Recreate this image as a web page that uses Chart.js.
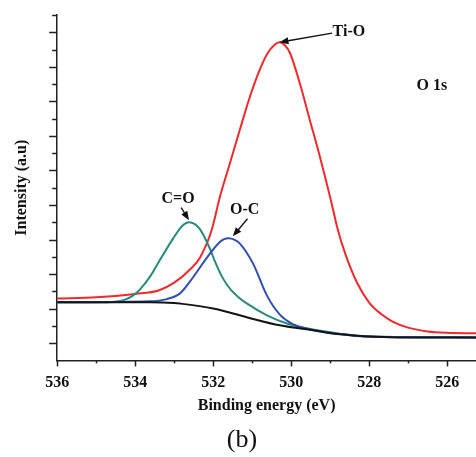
<!DOCTYPE html>
<html>
<head>
<meta charset="utf-8">
<script src="https://cdn.jsdelivr.net/npm/chart.js@4"></script>
<style>
  html, body { margin: 0; padding: 0; background: #fff; }
  #wrap { width: 476px; height: 457px; }
</style>
</head>
<body>
<div id="wrap"><canvas id="xps"></canvas></div>
<script>
// O 1s spectrum (eV, arbitrary intensity)
const tioX = [536, 535, 534, 533.4, 533, 532.6, 532.34, 532.04, 531.83, 531.57, 531.32, 531.06, 530.81, 530.6, 530.45, 530.3, 530.15, 530.03, 529.78, 529.52, 529.26, 529, 528.8, 528.6, 528.3, 528, 527.7, 527.4, 527, 526.5, 526, 525.26];
const tioY = [3.59, 3.65, 3.85, 4.05, 4.5, 5.25, 5.95, 7.54, 9.45, 11.42, 13.33, 15.25, 16.81, 17.8, 18.22, 18.42, 18.22, 17.8, 16.06, 13.91, 11.77, 9.45, 7.54, 6.1, 4.45, 3.35, 2.7, 2.25, 1.9, 1.68, 1.6, 1.57];

const coX = [536, 534.9, 534.26, 534.06, 533.88, 533.62, 533.37, 533.03, 532.85, 532.75, 532.62, 532.48, 532.34, 532.08, 531.95, 531.75, 531.55, 531.32, 531.14, 530.62, 530.11, 529.6, 528.75, 528, 525.26];
const coY = [3.36, 3.36, 3.52, 3.75, 4.1, 4.85, 5.8, 7.05, 7.65, 7.88, 8.0, 7.9, 7.6, 6.45, 5.7, 4.75, 4.1, 3.6, 3.3, 2.61, 2.14, 1.86, 1.55, 1.38, 1.33];

const ocX = [536, 533.62, 533.19, 532.85, 532.52, 532.16, 531.83, 531.72, 531.6, 531.45, 531.32, 530.98, 530.62, 530.29, 529.96, 529.44, 528.75, 528, 525.26];
const ocY = [3.36, 3.42, 3.55, 3.88, 4.8, 5.95, 6.85, 7.02, 7.07, 6.98, 6.78, 5.62, 3.75, 2.65, 2.1, 1.76, 1.53, 1.38, 1.33];

const bgX = [536, 533.62, 533, 532.85, 532, 531.14, 530.29, 529.44, 528.75, 528, 527.3, 525.26];
const bgY = [3.36, 3.36, 3.32, 3.29, 3.01, 2.5, 2.03, 1.74, 1.51, 1.38, 1.33, 1.32];

const xTickValues = [536, 534, 532, 530, 528, 526];

function pts(xs, ys) {
  return xs.map((x, i) => ({ x: x, y: ys[i] }));
}

function peakOf(xs, ys) {
  let k = 0;
  ys.forEach((v, i) => { if (v > ys[k]) k = i; });
  return { x: xs[k], y: ys[k] };
}

const serif = '"Liberation Serif", "Times New Roman", serif';

// labels with arrows pointing at the peaks
const notes = [
  { text: 'Ti-O', at: [528.52, 19.0], from: [528.95, 18.95], peak: peakOf(tioX, tioY), dy: 0 },
  { text: 'O 1s', at: [526.39, 15.9] },
  { text: 'C=O', at: [532.9, 9.33], from: [532.82, 8.85], peak: peakOf(coX, coY), dy: -2 },
  { text: 'O-C', at: [531.19, 8.7], from: [531.12, 8.2], peak: peakOf(ocX, ocY), dy: -2, dx: 4 }
];

const axisMarks = {
  id: 'axisMarks',
  afterDraw(chart) {
    const c = chart.ctx;
    const xs = chart.scales.x, ys = chart.scales.y;
    const left = chart.chartArea.left, bottom = chart.chartArea.bottom;
    c.save();
    c.strokeStyle = '#222';
    c.lineWidth = 1.5;
    for (let v = 1; v <= 20; v++) {
      const py = Math.round(ys.getPixelForValue(v)) + 0.5;
      const len = v % 2 ? 8 : 5;
      c.beginPath(); c.moveTo(left - len, py); c.lineTo(left, py); c.stroke();
    }
    for (let v = 526; v <= 536; v++) {
      const px = Math.round(xs.getPixelForValue(v)) + 0.5;
      const len = v % 2 ? 3 : 6;
      c.beginPath(); c.moveTo(px, bottom); c.lineTo(px, bottom + len); c.stroke();
    }
    // annotations
    c.fillStyle = '#111';
    c.font = 'bold 16px ' + serif;
    c.textAlign = 'center';
    c.textBaseline = 'middle';
    notes.forEach(n => {
      c.fillText(n.text, xs.getPixelForValue(n.at[0]), ys.getPixelForValue(n.at[1]));
      if (!n.peak) return;
      const x0 = xs.getPixelForValue(n.from[0]), y0 = ys.getPixelForValue(n.from[1]);
      const x1 = xs.getPixelForValue(n.peak.x) + (n.dx || 0), y1 = ys.getPixelForValue(n.peak.y) + n.dy;
      const a = Math.atan2(y1 - y0, x1 - x0);
      c.strokeStyle = '#111';
      c.lineWidth = 1.3;
      c.beginPath(); c.moveTo(x0, y0); c.lineTo(x1 - 6 * Math.cos(a), y1 - 6 * Math.sin(a)); c.stroke();
      c.beginPath();
      c.moveTo(x1, y1);
      c.lineTo(x1 - 9 * Math.cos(a) + 3.5 * Math.sin(a), y1 - 9 * Math.sin(a) - 3.5 * Math.cos(a));
      c.lineTo(x1 - 9 * Math.cos(a) - 3.5 * Math.sin(a), y1 - 9 * Math.sin(a) + 3.5 * Math.cos(a));
      c.closePath(); c.fill();
    });
    c.restore();
  }
};

const line = (data, color) => ({
  data: data,
  borderColor: color,
  borderWidth: 2,
  pointRadius: 0,
  showLine: true,
  fill: false,
  cubicInterpolationMode: 'monotone'
});

new Chart(document.getElementById('xps'), {
  type: 'scatter',
  data: {
    datasets: [
      line(pts(bgX, bgY), '#141414'),
      line(pts(ocX, ocY), '#2f4fb2'),
      line(pts(coX, coY), '#278a7e'),
      line(pts(tioX, tioY), '#ee2a2c')
    ]
  },
  options: {
    responsive: true,
    maintainAspectRatio: false,
    animation: false,
    layout: { padding: { top: 15, left: 8, right: 0, bottom: 0 } },
    plugins: {
      legend: { display: false },
      tooltip: { enabled: false },
      title: {
        display: true,
        position: 'bottom',
        text: '(b)',
        color: '#111',
        font: { family: serif, size: 26, weight: 'normal' },
        padding: { top: 5, bottom: 1 }
      }
    },
    scales: {
      x: {
        type: 'linear',
        reverse: true,
        min: 525.26,
        max: 536,
        grid: { display: false, drawTicks: false, tickLength: 0 },
        border: { display: true, color: '#222', width: 1.5 },
        afterBuildTicks: s => { s.ticks = xTickValues.map(v => ({ value: v })); },
        ticks: {
          padding: 13,
          color: '#111',
          maxRotation: 0,
          font: { family: serif, size: 16, weight: 'bold' }
        },
        title: {
          display: true,
          text: 'Binding energy (eV)',
          color: '#111',
          font: { family: serif, size: 16, weight: 'bold' },
          padding: { top: -9, bottom: 4 }
        }
      },
      y: {
        min: 0,
        max: 20,
        grid: { display: false, drawTicks: false, tickLength: 0 },
        border: { display: true, color: '#222', width: 1.5 },
        ticks: { display: false },
        title: {
          display: true,
          text: 'Intensity (a.u)',
          color: '#111',
          font: { family: serif, size: 16, weight: 'bold' },
          padding: { top: 4, bottom: 26 }
        }
      }
    }
  },
  plugins: [axisMarks]
});
</script>
</body>
</html>
